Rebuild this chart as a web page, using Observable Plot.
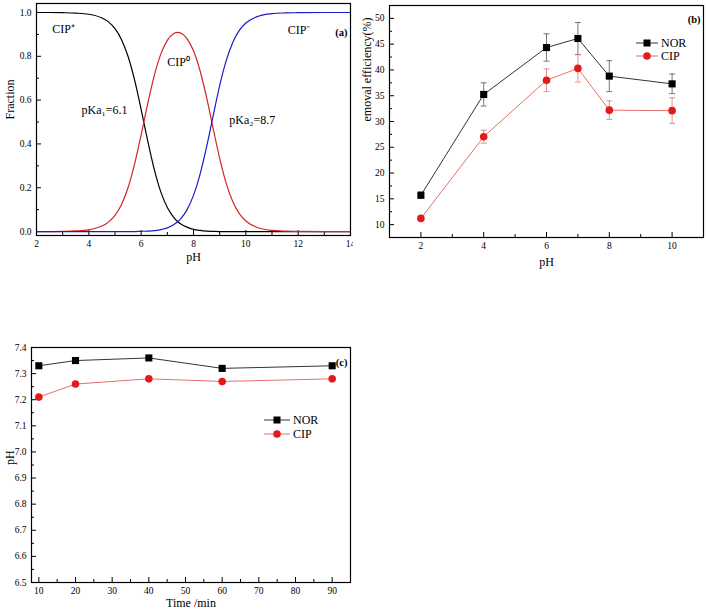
<!DOCTYPE html>
<html>
<head>
<meta charset="utf-8">
<script src="https://cdn.jsdelivr.net/npm/d3@7"></script>
<script src="https://cdn.jsdelivr.net/npm/@observablehq/plot@0.6"></script>
<style>
  html, body { margin: 0; padding: 0; background: #fff; }
  body { width: 706px; height: 611px; position: relative; overflow: hidden; font-family: "Liberation Serif", "Times New Roman", serif; }
  .panel { position: absolute; }
  svg, svg text { font-family: "Liberation Serif", "Times New Roman", serif !important; }
</style>
</head>
<body>
<div id="pa" class="panel" style="left:0px;top:0px;width:353px;height:270px"></div>
<div id="pb" class="panel" style="left:350px;top:0px;width:356px;height:280px"></div>
<div id="pc" class="panel" style="left:0px;top:330px;width:353px;height:281px"></div>
<script>
// ---------- Panel (a): CIP speciation ----------
const phGrid = [2,2.5,3,3.5,4,4.5,4.75,5,5.25,5.5,5.75,6,6.25,6.5,6.75,7,7.25,7.4,7.5,7.75,8,8.25,8.5,8.75,9,9.25,9.5,9.75,10,10.5,11,11.5,12,13,14];
const fracCationic = [1.000,1.000,0.999,0.997,0.992,0.975,0.957,0.926,0.876,0.799,0.691,0.557,0.414,0.284,0.181,0.110,0.064,0.045,0.036,0.020,0.010,0.005,0.002,0.001,0,0,0,0,0,0,0,0,0,0,0];
const fracNeutral  = [0.000,0.000,0.001,0.003,0.008,0.025,0.043,0.074,0.124,0.201,0.309,0.442,0.584,0.712,0.810,0.873,0.904,0.909,0.907,0.881,0.825,0.734,0.612,0.471,0.334,0.220,0.137,0.082,0.048,0.016,0.005,0.002,0.001,0,0];
const fracAnionic  = [0,0,0,0,0,0,0,0,0,0,0,0.001,0.002,0.004,0.009,0.017,0.032,0.046,0.057,0.099,0.165,0.261,0.386,0.528,0.666,0.780,0.863,0.918,0.952,0.984,0.995,0.998,0.999,1,1];
const annotA = [
  {label: "CIP\u207A", ph: 2.6, frac: 0.925},
  {label: "CIP\u2070", ph: 7.0, frac: 0.775},
  {label: "CIP\u207B", ph: 11.6, frac: 0.92},
  {label: "pKa\u2081=6.1", ph: 3.72, frac: 0.553},
  {label: "pKa\u2082=8.7", ph: 9.37, frac: 0.507}
];
const aXMajor = [2,4,6,8,10,12,14];
const aXMinor = [3,5,7,9,11,13];
const aYMajor = [0,0.2,0.4,0.6,0.8,1.0];
const aYMinor = [0.1,0.3,0.5,0.7,0.9];

// ---------- Panel (b): removal efficiency vs pH ----------
const bPH = [2,4,6,7,8,10];
const bNOR = [15.7,35.25,44.35,46.1,38.8,37.3];
const bNORerr = [0.6,2.25,2.65,3.1,3.0,1.9];
const bCIP = [11.2,27.05,38.0,40.3,32.2,32.1];
const bCIPerr = [0.4,1.25,2.2,2.65,1.8,2.5];
const bXMajor = [2,4,6,8,10];
const bXMinor = [3,5,7,9];
const bYMajor = [10,15,20,25,30,35,40,45,50];
const bYMinor = [12.5,17.5,22.5,27.5,32.5,37.5,42.5,47.5];

// ---------- Panel (c): pH vs time ----------
const cTime = [10,20,40,60,90];
const cNOR = [7.33,7.35,7.36,7.32,7.33];
const cCIP = [7.21,7.26,7.28,7.27,7.28];
const cXMajor = [10,20,30,40,50,60,70,80,90];
const cXMinor = [15,25,35,45,55,65,75,85];
const cYMajor = [6.5,6.6,6.7,6.8,6.9,7.0,7.1,7.2,7.3,7.4];
const cYMinor = [6.55,6.65,6.75,6.85,6.95,7.05,7.15,7.25,7.35];

const seriesNames = ["NOR", "CIP"];

const FONT = "Liberation Serif";
const RED = "#d42424";
const BLUE = "#1c1cc8";
const MRED = "#e31a1c";

function tickMarks(xMaj, xMin, yMaj, yMin, fw, fh) {
  return [
    Plot.tickY(yMaj, {y: d => d, insetRight: fw - 5, stroke: "#000", strokeWidth: 1}),
    Plot.tickY(yMin, {y: d => d, insetRight: fw - 3, stroke: "#000", strokeWidth: 1}),
    Plot.tickX(xMaj, {x: d => d, insetTop: fh - 5, stroke: "#000", strokeWidth: 1}),
    Plot.tickX(xMin, {x: d => d, insetTop: fh - 3, stroke: "#000", strokeWidth: 1})
  ];
}
function axisMarks(xMaj, yMaj, yFmt, xFmt) {
  return [
    Plot.axisX(xMaj, {tickSize: 0, tickPadding: 5, label: null, tickFormat: xFmt, fontSize: 9.5}),
    Plot.axisY(yMaj, {tickSize: 0, tickPadding: 5, label: null, tickFormat: yFmt, fontSize: 9.5})
  ];
}
const capSymbol = {
  draw(context, size) {
    const r = Math.sqrt(size / Math.PI);
    context.moveTo(-r, 0);
    context.lineTo(r, 0);
  }
};

// ---- Panel (a)
const dataA = phGrid.map((p, i) => ({ph: p, cat: fracCationic[i], neu: fracNeutral[i], ani: fracAnionic[i]}));
const fwA = 314, fhA = 232;
const plotA = Plot.plot({
  width: 353, height: 270,
  marginLeft: 36, marginRight: 3, marginTop: 3, marginBottom: 35,
  style: {fontFamily: FONT, fontSize: "9.5px", background: "transparent"},
  x: {domain: [2, 14]},
  y: {domain: [-0.018, 1.041]},
  marks: [
    ...axisMarks(aXMajor, aYMajor, d3.format(".1f"), d3.format("d")),
    ...tickMarks(aXMajor, aXMinor, aYMajor, aYMinor, fwA, fhA),
    Plot.line(dataA, {x: "ph", y: "cat", stroke: "#000", strokeWidth: 1.2, curve: "monotone-x"}),
    Plot.line(dataA, {x: "ph", y: "neu", stroke: RED, strokeWidth: 1.2, curve: "monotone-x"}),
    Plot.line(dataA, {x: "ph", y: "ani", stroke: BLUE, strokeWidth: 1.2, curve: "monotone-x"}),
    Plot.text(annotA, {x: "ph", y: "frac", text: "label", textAnchor: "start", fontSize: 12, fontFamily: FONT}),
    Plot.text(["(a)"], {frameAnchor: "top-right", dx: -3, dy: 25, textAnchor: "end", fontSize: 10.5, fontWeight: "bold", fontFamily: FONT}),
    Plot.text(["pH"], {frameAnchor: "bottom", dy: 25, fontSize: 12, fontFamily: FONT}),
    Plot.text(["Fraction"], {frameAnchor: "left", dx: -26, rotate: -90, fontSize: 12, fontFamily: FONT}),
    Plot.frame({stroke: "#000", strokeWidth: 1.2})
  ]
});
document.getElementById("pa").appendChild(plotA);

// ---- Panel (b)
const dataB = bPH.map((p, i) => ({ph: p, nor: bNOR[i], norLo: bNOR[i] - bNORerr[i], norHi: bNOR[i] + bNORerr[i],
  cip: bCIP[i], cipLo: bCIP[i] - bCIPerr[i], cipHi: bCIP[i] + bCIPerr[i]}));
const fwB = 314, fhB = 232;
const NORERR = "#555555", CIPERR = "#e57373";
const plotB = Plot.plot({
  width: 356, height: 280,
  marginLeft: 39, marginRight: 3, marginTop: 5, marginBottom: 43,
  style: {fontFamily: FONT, fontSize: "9.5px", background: "transparent"},
  x: {domain: [1, 11]},
  y: {domain: [7.5, 52.5]},
  marks: [
    ...axisMarks(bXMajor, bYMajor, d3.format("d"), d3.format("d")),
    ...tickMarks(bXMajor, bXMinor, bYMajor, bYMinor, fwB, fhB),
    Plot.ruleX(dataB, {x: "ph", y1: "norLo", y2: "norHi", stroke: NORERR, strokeWidth: 0.8}),
    Plot.dot(dataB, {x: "ph", y: "norLo", symbol: capSymbol, r: 3, stroke: NORERR, strokeWidth: 0.8}),
    Plot.dot(dataB, {x: "ph", y: "norHi", symbol: capSymbol, r: 3, stroke: NORERR, strokeWidth: 0.8}),
    Plot.ruleX(dataB, {x: "ph", y1: "cipLo", y2: "cipHi", stroke: CIPERR, strokeWidth: 0.8}),
    Plot.dot(dataB, {x: "ph", y: "cipLo", symbol: capSymbol, r: 3, stroke: CIPERR, strokeWidth: 0.8}),
    Plot.dot(dataB, {x: "ph", y: "cipHi", symbol: capSymbol, r: 3, stroke: CIPERR, strokeWidth: 0.8}),
    Plot.line(dataB, {x: "ph", y: "nor", stroke: "#000", strokeWidth: 0.8}),
    Plot.line(dataB, {x: "ph", y: "cip", stroke: "#e04848", strokeWidth: 0.8}),
    Plot.dot(dataB, {x: "ph", y: "nor", symbol: "square", r: 4, fill: "#000", stroke: "none"}),
    Plot.dot(dataB, {x: "ph", y: "cip", symbol: "circle", r: 3.8, fill: MRED, stroke: "none"}),
    Plot.text(["(b)"], {frameAnchor: "top-right", dx: -3, dy: 10, textAnchor: "end", fontSize: 10.5, fontWeight: "bold", fontFamily: FONT}),
    Plot.text(["pH"], {frameAnchor: "bottom", dy: 28, fontSize: 12, fontFamily: FONT}),
    Plot.text(["emoval efficiency(%)"], {frameAnchor: "left", dx: -22, rotate: -90, fontSize: 12, fontFamily: FONT}),
    Plot.frame({stroke: "#000", strokeWidth: 1.2})
  ]
});
document.getElementById("pb").appendChild(plotB);

// ---- Panel (c)
const dataC = cTime.map((t, i) => ({t, nor: cNOR[i], cip: cCIP[i]}));
const fwC = 319, fhC = 235;
const plotC = Plot.plot({
  width: 353, height: 281,
  marginLeft: 31, marginRight: 3, marginTop: 17, marginBottom: 29,
  style: {fontFamily: FONT, fontSize: "9.5px", background: "transparent"},
  x: {domain: [8, 95]},
  y: {domain: [6.5, 7.4]},
  marks: [
    ...axisMarks(cXMajor, cYMajor, d3.format(".1f"), d3.format("d")),
    ...tickMarks(cXMajor, cXMinor, cYMajor, cYMinor, fwC, fhC),
    Plot.line(dataC, {x: "t", y: "nor", stroke: "#000", strokeWidth: 0.8}),
    Plot.line(dataC, {x: "t", y: "cip", stroke: "#e04848", strokeWidth: 0.8}),
    Plot.dot(dataC, {x: "t", y: "nor", symbol: "square", r: 4, fill: "#000", stroke: "none"}),
    Plot.dot(dataC, {x: "t", y: "cip", symbol: "circle", r: 3.8, fill: MRED, stroke: "none"}),
    Plot.text(["(c)"], {frameAnchor: "top-right", dx: -3, dy: 11, textAnchor: "end", fontSize: 10.5, fontWeight: "bold", fontFamily: FONT}),
    Plot.text(["Time /min"], {frameAnchor: "bottom", dy: 24, fontSize: 12, fontFamily: FONT}),
    Plot.text(["pH"], {frameAnchor: "left", dx: -21, rotate: -90, fontSize: 12, fontFamily: FONT}),
    Plot.frame({stroke: "#000", strokeWidth: 1.2})
  ]
});
document.getElementById("pc").appendChild(plotC);

// ---- In-plot legends (NOR / CIP)
function addLegend(svg, x0, y0, gap, len) {
  const g = d3.select(svg).append("g").attr("font-size", 12).attr("text-anchor", "start");
  seriesNames.forEach((name, i) => {
    const y = y0 + i * gap;
    const isNOR = name === "NOR";
    g.append("line").attr("x1", x0).attr("x2", x0 + len).attr("y1", y).attr("y2", y)
      .attr("stroke", isNOR ? "#000" : "#e04848").attr("stroke-width", 0.8);
    if (isNOR) {
      g.append("rect").attr("x", x0 + len / 2 - 3.5).attr("y", y - 3.5).attr("width", 7).attr("height", 7).attr("fill", "#000");
    } else {
      g.append("circle").attr("cx", x0 + len / 2).attr("cy", y).attr("r", 3.8).attr("fill", MRED);
    }
    g.append("text").attr("x", x0 + len + 3).attr("y", y).attr("dy", "0.35em")
      .attr("text-anchor", "start").attr("fill", "#000").text(name);
  });
}
addLegend(plotB, 286, 43, 13, 22);
addLegend(plotC, 264, 90, 14, 26);
</script>
</body>
</html>
